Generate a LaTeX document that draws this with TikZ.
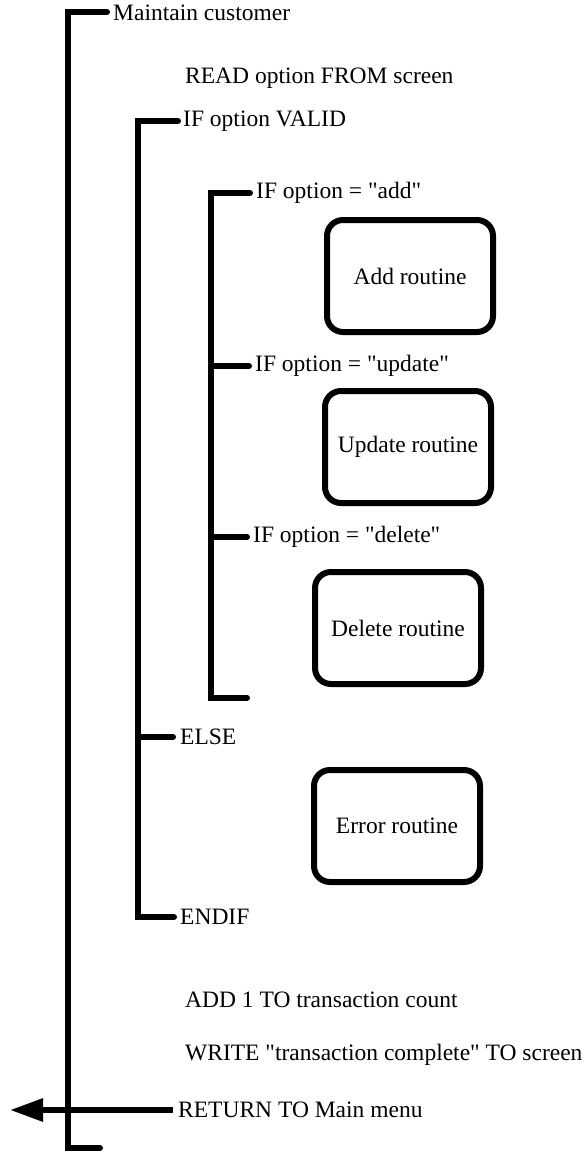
\documentclass[tikz,border=0pt]{standalone}
\usepackage{fontspec}
\setmainfont{Liberation Serif}[Ligatures=TeXOff]
\usetikzlibrary{arrows.meta}
\begin{document}
\begin{tikzpicture}[x=1pt,y=-1pt,
  bar/.style={line width=6pt, line cap=round, line join=miter},
  lbl/.style={anchor=west, inner sep=0pt, font=\fontsize{23.5}{28}\selectfont},
  routine/.style={draw, line width=6pt, rounded corners=16pt, minimum width=166pt,
    minimum height=112pt, inner sep=0pt, font=\fontsize{23.5}{28}\selectfont}]
\useasboundingbox (0,0) rectangle (586,1153);
% texts
\node[lbl] (maint) at (113,13) {Maintain customer};
\node[lbl] (read) at (185,78) {READ option FROM screen};
\node[lbl] (valid) at (183,121) {IF option VALID};
\node[lbl] (add) at (256,193) {IF option = "add"};
\node[lbl] (upd) at (255,366) {IF option = "update"};
\node[lbl] (del) at (253,537) {IF option = "delete"};
\node[lbl] (else) at (180,737) {ELSE};
\node[lbl] (endif) at (180,917) {ENDIF};
\node[lbl] (addone) at (185,1000) {ADD 1 TO transaction count};
\node[lbl] (write) at (185,1055) {WRITE "transaction complete" TO screen};
\node[lbl] (ret) at (178,1110) {RETURN TO Main menu};
% boxes
\node[routine] (addr) at (410,276) {Add routine};
\node[routine] (updr) at (408,447) {Update routine};
\node[routine] (delr) at (398,628) {Delete routine};
\node[routine] (errr) at (397,826) {Error routine};
% main bracket
\coordinate (mt) at (68,12);
\coordinate (mb) at (68,1148);
\draw[bar] ([xshift=-6pt]maint.west |- mt) -- (mt) -- (mb) -- ++(32,0);
% if valid bracket
\coordinate (vt) at (138,121);
\coordinate (vb) at (138,917);
\draw[bar] ([xshift=-5pt]valid.west) -- (vt) -- (vb) -- ([xshift=-6pt]endif.west);
\draw[bar] (vt |- else.west) -- ([xshift=-7pt]else.west);
% option bracket
\coordinate (ot) at (211,193);
\coordinate (ob) at (211,698);
\draw[bar] ([xshift=-6pt]add.west) -- (ot) -- (ob) -- ++(36,0);
\draw[bar] (ot |- upd.west) -- ([xshift=-6pt]upd.west);
\draw[bar] (ot |- del.west) -- ([xshift=-6pt]del.west);
% return arrow
\coordinate (tip) at (10,1110);
\draw[line width=6pt, -{Triangle[length=33pt,width=22pt]}] ([xshift=-5pt]ret.west) -- (tip);
\end{tikzpicture}
\end{document}
